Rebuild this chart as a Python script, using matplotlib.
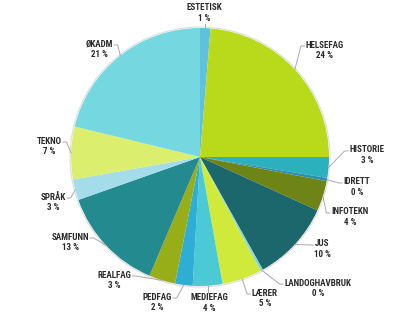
import numpy as np
import matplotlib
matplotlib.use('Agg')
import matplotlib.pyplot as plt
from matplotlib import font_manager

# shares per subject area (percent)
subjects = ['ESTETISK', 'HELSEFAG', 'HISTORIE', 'IDRETT', 'INFOTEKN', 'JUS',
            'LANDOGHAVBRUK', 'LÆRER', 'MEDIEFAG', 'PEDFAG', 'REALFAG',
            'SAMFUNN', 'SPRÅK', 'TEKNO', 'ØKADM']
shares = [1.3, 23.7, 2.6, 0.4, 3.8, 10.1, 0.3, 5.0, 3.7, 2.2, 3.3,
          13.2, 2.6, 6.6, 21.2]
colors = ['#5EC1DF', '#B9D91B', '#2DB0BE', '#2A8FB0', '#6F8416', '#1B676B',
          '#7FD3E8', '#D0EA3C', '#4BC9D5', '#2EAED5', '#97AE18',
          '#238A8F', '#A4DCEA', '#DBEE6D', '#75D7DF']

# label layout (pixel centre of the name line, y from top)
label_pos = [(204, 8), (325, 45), (367, 150), (357, 182), (350, 212),
             (322, 244), (318, 283), (265, 293), (209, 298), (157, 297),
             (114, 275), (70, 237), (53, 197), (49, 141), (99, 44)]

W, H = 400, 316
cx, cy, R = 200, H - 157, 129


def pick_font():
    # look for a narrow / condensed bold face, fall back to DejaVu Sans
    fl = font_manager.fontManager.ttflist
    prefs = ['Liberation Sans Narrow', 'Roboto Condensed', 'Open Sans Condensed',
             'Noto Sans Condensed', 'DejaVu Sans']
    for p in prefs:
        for f in fl:
            wt = f.weight if isinstance(f.weight, int) else 700 if 'bold' in str(f.weight) else 400
            cond = 'condensed' in str(f.stretch) or 'Narrow' in f.name or 'Condensed' in f.name
            if f.name == p and wt >= 600 and cond and 'italic' not in f.style:
                return font_manager.FontProperties(fname=f.fname, size=6.5)
    return font_manager.FontProperties(family='DejaVu Sans', weight='bold', size=5.2)


fp = pick_font()

fig = plt.figure(figsize=(W / 100, H / 100), dpi=100)
ax = fig.add_axes([0, 0, 1, 1])
wedges, _ = ax.pie(shares, colors=colors, center=(cx, cy), radius=R,
                   startangle=90, counterclock=False,
                   wedgeprops=dict(linewidth=0))
ax.add_patch(plt.Circle((cx, cy), R + 1, fill=False, ec='#dddddd', lw=0.8))
ax.set_xlim(0, W)
ax.set_ylim(0, H)
ax.set_aspect('equal')
ax.axis('off')

texts = []
for name, v, (lx, ly) in zip(subjects, shares, label_pos):
    t = ax.text(lx, H - ly, name, ha='center', va='center', fontproperties=fp,
                color='#2b2b2b')
    ax.text(lx, H - ly - 10.5, f'{v:.0f} %', ha='center', va='center',
            fontproperties=fp, color='#2b2b2b')
    texts.append(t)

fig.canvas.draw()
r = fig.canvas.get_renderer()
lc = '#aaaaaa'
for w, t, (lx, ly) in zip(wedges, texts, label_pos):
    mid = np.deg2rad((w.theta1 + w.theta2) / 2)
    ex, ey = cx + R * np.cos(mid), cy + R * np.sin(mid)
    bb = t.get_window_extent(r)
    if abs(lx - ex) < 8:
        # straight vertical leader, stopping short of the label
        if H - ly > ey:
            ax.plot([ex, ex], [ey, H - ly - 16], color=lc, lw=0.7)
        else:
            ax.plot([ex, ex], [ey, H - ly + 5], color=lc, lw=0.7)
        continue
    ty = H - ly - 1
    if lx > ex:
        tx = bb.x0 - 1.5
        elx = tx - 3.5
    else:
        tx = bb.x1 + 1.5
        elx = tx + 3.5
    ax.plot([ex, elx, tx], [ey, ty, ty], color=lc, lw=0.7)

fig.savefig('out.png', dpi=100)
